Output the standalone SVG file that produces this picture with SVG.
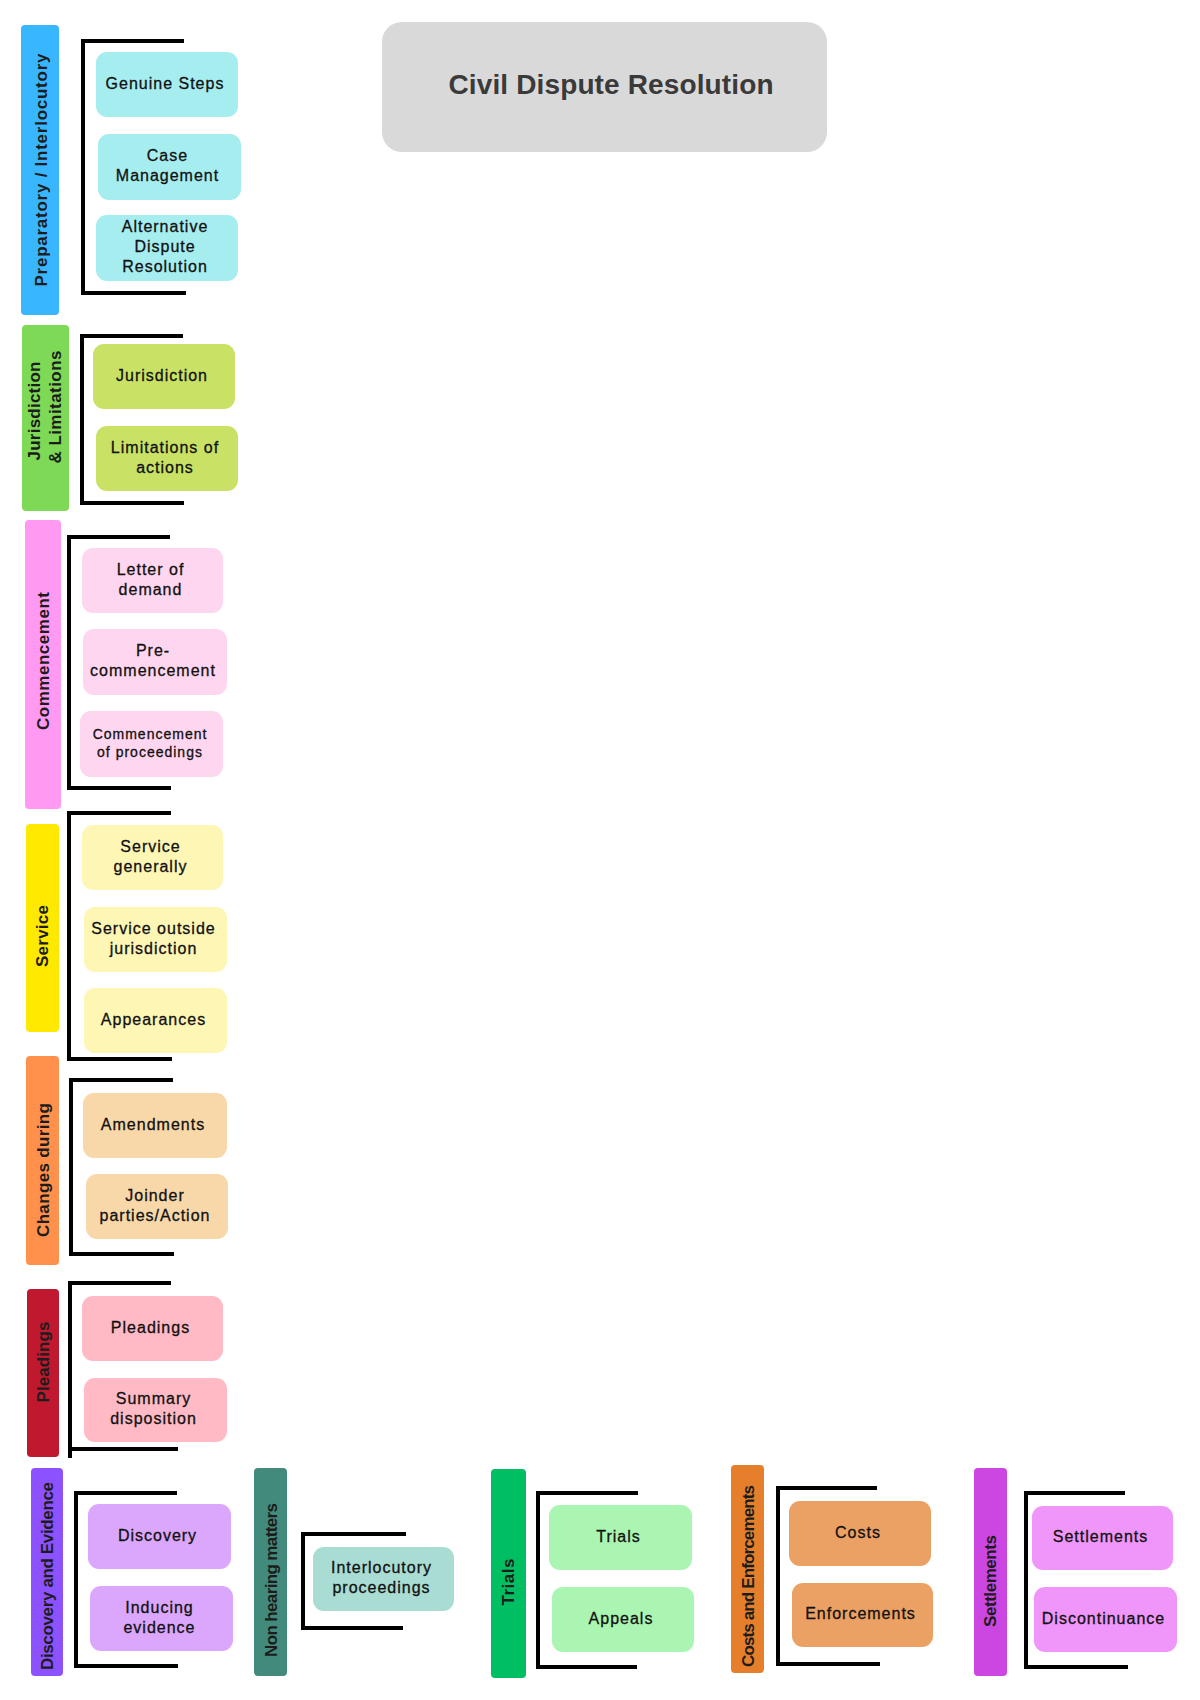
<svg xmlns="http://www.w3.org/2000/svg" width="1200" height="1700" viewBox="0 0 1200 1700">
<style>
  .bg { fill: #ffffff; }
  .bar { stroke: none; }
  .box { stroke: none; }
  .lbl { font-family: "Liberation Sans", Arial, sans-serif; font-size: 17px; font-weight: bold; fill: #1c1c1c; text-anchor: middle; }
  .txt { font-family: "Liberation Sans", Arial, sans-serif; font-size: 16px; letter-spacing: 1px; fill: #111111; stroke: #111111; stroke-width: 0.3px; text-anchor: middle; }
  .sm { font-size: 14px; }
  .title { font-family: "Liberation Sans", Arial, sans-serif; font-size: 28px; font-weight: bold; fill: #3a3a3a; text-anchor: middle; }
  .brk { fill: none; stroke: #000000; stroke-width: 4; stroke-linejoin: miter; }
  .c1b { fill: #38b6ff; } .c1 { fill: #a6edf0; }
  .c2b { fill: #7ed957; } .c2 { fill: #c9e265; }
  .c3b { fill: #ff99f2; } .c3 { fill: #ffd6ef; }
  .c4b { fill: #ffe900; } .c4 { fill: #fdf6b5; }
  .c5b { fill: #ff914d; } .c5 { fill: #f8d8a9; }
  .c6b { fill: #c0182f; } .c6 { fill: #ffbac5; }
  .c7b { fill: #8c52ff; } .c7 { fill: #dba7fc; }
  .c8b { fill: #428a7b; } .c8 { fill: #a9ddd4; }
  .c9b { fill: #00bf63; } .c9 { fill: #abf5b2; }
  .c10b { fill: #e57f2c; } .c10 { fill: #eca164; }
  .c11b { fill: #cc46e2; } .c11 { fill: #f096fb; }
</style>
<rect class="bg" x="0" y="0" width="1200" height="1700"/>

<g id="title">
  <rect x="382" y="22" width="445" height="130" rx="20" fill="#d9d9d9"/>
  <text class="title" x="611" y="94" textLength="325" lengthAdjust="spacing">Civil Dispute Resolution</text>
</g>

<g id="connectors">
  <polyline class="brk" points="184,41 83,41 83,293 186,293"/>
  <polyline class="brk" points="183,336 82,336 82,503 184,503"/>
  <polyline class="brk" points="170,537 69,537 69,788 171,788"/>
  <polyline class="brk" points="171,813 69,813 69,1059 172,1059"/>
  <polyline class="brk" points="173,1080 71,1080 71,1254 174,1254"/>
  <path class="brk" d="M171,1283 H70 V1458 M70,1449 H178"/>
  <polyline class="brk" points="177,1493 76,1493 76,1666 178,1666"/>
  <polyline class="brk" points="406,1534 303,1534 303,1628 403,1628"/>
  <polyline class="brk" points="638,1493 538,1493 538,1667 637,1667"/>
  <polyline class="brk" points="877,1488 778,1488 778,1664 880,1664"/>
  <polyline class="brk" points="1125,1493 1026,1493 1026,1667 1128,1667"/>
</g>

<!-- Category bars -->
<g id="cat-preparatory">
  <rect class="bar c1b" x="21" y="25" width="38" height="290" rx="4"/>
  <text class="lbl" transform="translate(47,170) rotate(-90)" textLength="233" lengthAdjust="spacing">Preparatory / Interlocutory</text>
</g>
<g id="cat-jurisdiction">
  <rect class="bar c2b" x="22" y="325" width="47" height="186" rx="4"/>
  <text class="lbl" transform="translate(39.5,411) rotate(-90)" textLength="99" lengthAdjust="spacing">Jurisdiction</text>
  <text class="lbl" transform="translate(60.5,407) rotate(-90)" textLength="113" lengthAdjust="spacing">&amp; Limitations</text>
</g>
<g id="cat-commencement">
  <rect class="bar c3b" x="25" y="520" width="36" height="289" rx="4"/>
  <text class="lbl" transform="translate(49,661) rotate(-90)" textLength="138" lengthAdjust="spacing">Commencement</text>
</g>
<g id="cat-service">
  <rect class="bar c4b" x="26" y="824" width="33" height="208" rx="4"/>
  <text class="lbl" transform="translate(48,936) rotate(-90)" textLength="62" lengthAdjust="spacing">Service</text>
</g>
<g id="cat-changes">
  <rect class="bar c5b" x="26" y="1056" width="33" height="209" rx="4"/>
  <text class="lbl" transform="translate(48.5,1170) rotate(-90)" textLength="134" lengthAdjust="spacing">Changes during</text>
</g>
<g id="cat-pleadings">
  <rect class="bar c6b" x="27" y="1289" width="32" height="168" rx="4"/>
  <text class="lbl" transform="translate(48.5,1362) rotate(-90)" textLength="81" lengthAdjust="spacing">Pleadings</text>
</g>
<g id="cat-discovery">
  <rect class="bar c7b" x="31" y="1468" width="32" height="208" rx="4"/>
  <text class="lbl" transform="translate(52.5,1576) rotate(-90)" textLength="188" lengthAdjust="spacing">Discovery and Evidence</text>
</g>
<g id="cat-nonhearing">
  <rect class="bar c8b" x="254" y="1468" width="33" height="208" rx="4"/>
  <text class="lbl" transform="translate(277,1580) rotate(-90)" textLength="154" lengthAdjust="spacing">Non hearing matters</text>
</g>
<g id="cat-trials">
  <rect class="bar c9b" x="491" y="1469" width="35" height="209" rx="4"/>
  <text class="lbl" transform="translate(514,1582) rotate(-90)" textLength="47" lengthAdjust="spacing">Trials</text>
</g>
<g id="cat-costs">
  <rect class="bar c10b" x="731" y="1465" width="33" height="208" rx="4"/>
  <text class="lbl" transform="translate(753.5,1576) rotate(-90)" textLength="182" lengthAdjust="spacing">Costs and Enforcements</text>
</g>
<g id="cat-settlements">
  <rect class="bar c11b" x="974" y="1468" width="33" height="208" rx="4"/>
  <text class="lbl" transform="translate(996,1581) rotate(-90)" textLength="92" lengthAdjust="spacing">Settlements</text>
</g>

<!-- Item nodes -->
<g id="genuine-steps">
  <rect class="box c1" x="96" y="52" width="142" height="65" rx="11"/>
  <text class="txt" x="165" y="88.5">Genuine Steps</text>
</g>
<g id="case-management">
  <rect class="box c1" x="98" y="134" width="143" height="66" rx="11"/>
  <text class="txt" x="167.5" y="161">Case<tspan x="167.5" y="181">Management</tspan></text>
</g>
<g id="adr">
  <rect class="box c1" x="96" y="215" width="142" height="66" rx="11"/>
  <text class="txt" x="165" y="232">Alternative<tspan x="165" y="252">Dispute</tspan><tspan x="165" y="272">Resolution</tspan></text>
</g>
<g id="jurisdiction">
  <rect class="box c2" x="93" y="344" width="142" height="65" rx="11"/>
  <text class="txt" x="162" y="380.5">Jurisdiction</text>
</g>
<g id="limitations">
  <rect class="box c2" x="96" y="426" width="142" height="65" rx="11"/>
  <text class="txt" x="165" y="452.5">Limitations of<tspan x="165" y="472.5">actions</tspan></text>
</g>
<g id="letter-of-demand">
  <rect class="box c3" x="82" y="548" width="141" height="65" rx="11"/>
  <text class="txt" x="150.5" y="574.5">Letter of<tspan x="150.5" y="594.5">demand</tspan></text>
</g>
<g id="pre-commencement">
  <rect class="box c3" x="83" y="629" width="144" height="66" rx="11"/>
  <text class="txt" x="153" y="656">Pre-<tspan x="153" y="676">commencement</tspan></text>
</g>
<g id="commencement-of-proceedings">
  <rect class="box c3" x="80" y="711" width="143" height="66" rx="11"/>
  <text class="txt sm" x="150" y="738.5">Commencement<tspan x="150" y="756.5">of proceedings</tspan></text>
</g>
<g id="service-generally">
  <rect class="box c4" x="82" y="825" width="141" height="65" rx="11"/>
  <text class="txt" x="150.5" y="851.5">Service<tspan x="150.5" y="871.5">generally</tspan></text>
</g>
<g id="service-outside">
  <rect class="box c4" x="84" y="907" width="143" height="65" rx="11"/>
  <text class="txt" x="153.5" y="933.5">Service outside<tspan x="153.5" y="953.5">jurisdiction</tspan></text>
</g>
<g id="appearances">
  <rect class="box c4" x="84" y="988" width="143" height="65" rx="11"/>
  <text class="txt" x="153.5" y="1024.5">Appearances</text>
</g>
<g id="amendments">
  <rect class="box c5" x="83" y="1093" width="144" height="65" rx="11"/>
  <text class="txt" x="153" y="1129.5">Amendments</text>
</g>
<g id="joinder">
  <rect class="box c5" x="86" y="1174" width="142" height="65" rx="11"/>
  <text class="txt" x="155" y="1200.5">Joinder<tspan x="155" y="1220.5">parties/Action</tspan></text>
</g>
<g id="pleadings">
  <rect class="box c6" x="82" y="1296" width="141" height="65" rx="11"/>
  <text class="txt" x="150.5" y="1332.5">Pleadings</text>
</g>
<g id="summary-disposition">
  <rect class="box c6" x="84" y="1378" width="143" height="64" rx="11"/>
  <text class="txt" x="153.5" y="1404">Summary<tspan x="153.5" y="1424">disposition</tspan></text>
</g>
<g id="discovery">
  <rect class="box c7" x="88" y="1504" width="143" height="65" rx="11"/>
  <text class="txt" x="157.5" y="1540.5">Discovery</text>
</g>
<g id="inducing-evidence">
  <rect class="box c7" x="90" y="1586" width="143" height="65" rx="11"/>
  <text class="txt" x="159.5" y="1612.5">Inducing<tspan x="159.5" y="1632.5">evidence</tspan></text>
</g>
<g id="interlocutory-proceedings">
  <rect class="box c8" x="313" y="1547" width="141" height="64" rx="11"/>
  <text class="txt" x="381.5" y="1573">Interlocutory<tspan x="381.5" y="1593">proceedings</tspan></text>
</g>
<g id="trials">
  <rect class="box c9" x="549" y="1505" width="143" height="65" rx="11"/>
  <text class="txt" x="618.5" y="1541.5">Trials</text>
</g>
<g id="appeals">
  <rect class="box c9" x="552" y="1587" width="142" height="65" rx="11"/>
  <text class="txt" x="621" y="1623.5">Appeals</text>
</g>
<g id="costs">
  <rect class="box c10" x="789" y="1501" width="142" height="65" rx="11"/>
  <text class="txt" x="858" y="1537.5">Costs</text>
</g>
<g id="enforcements">
  <rect class="box c10" x="792" y="1583" width="141" height="64" rx="11"/>
  <text class="txt" x="860.5" y="1619">Enforcements</text>
</g>
<g id="settlements">
  <rect class="box c11" x="1032" y="1506" width="141" height="64" rx="11"/>
  <text class="txt" x="1100.5" y="1542">Settlements</text>
</g>
<g id="discontinuance">
  <rect class="box c11" x="1034" y="1587" width="143" height="65" rx="11"/>
  <text class="txt" x="1103.5" y="1623.5">Discontinuance</text>
</g>
</svg>
